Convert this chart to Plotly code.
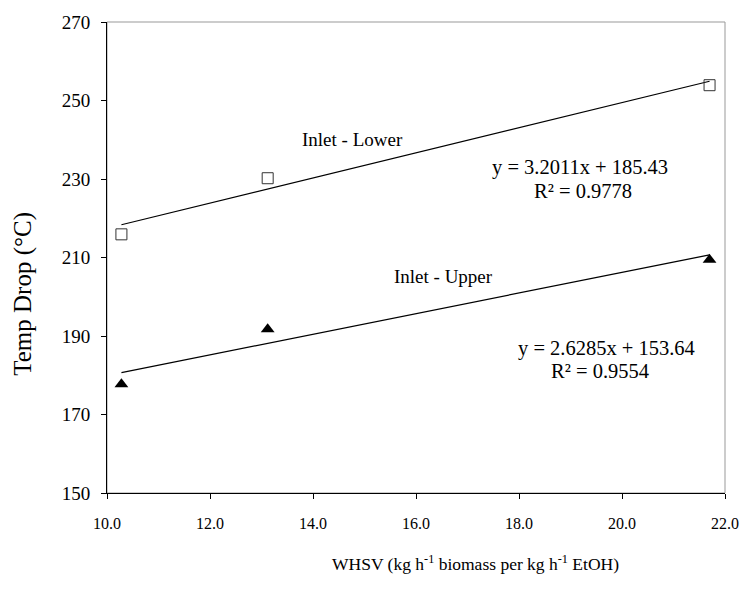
import plotly.graph_objects as go

# Data
whsv = [10.28, 13.12, 21.70]
lower_drop = [215.9, 230.2, 253.9]   # Inlet - Lower (open squares)
upper_drop = [177.7, 191.7, 209.4]   # Inlet - Upper (filled triangles)

# Linear fits shown on the chart
lower_slope, lower_icpt, lower_r2 = 3.2011, 185.43, 0.9778
upper_slope, upper_icpt, upper_r2 = 2.6285, 153.64, 0.9554

x_ticks = [10, 12, 14, 16, 18, 20, 22]
y_ticks = [150, 170, 190, 210, 230, 250, 270]

FONT = "Liberation Serif, Times New Roman, serif"

fit_x = [min(whsv), max(whsv)]
lower_fit = [lower_slope * v + lower_icpt for v in fit_x]
upper_fit = [upper_slope * v + upper_icpt for v in fit_x]

fig = go.Figure()
fig.add_trace(go.Scatter(x=fit_x, y=lower_fit, mode="lines",
                         line=dict(color="black", width=1.2), showlegend=False))
fig.add_trace(go.Scatter(x=fit_x, y=upper_fit, mode="lines",
                         line=dict(color="black", width=1.2), showlegend=False))
fig.add_trace(go.Scatter(x=whsv, y=lower_drop, mode="markers",
                         marker=dict(symbol="square-open", size=11, color="#333",
                                     line=dict(width=1)),
                         showlegend=False))
fig.add_trace(go.Scatter(x=whsv, y=upper_drop, mode="markers",
                         marker=dict(symbol="triangle-up", size=12, color="black"),
                         showlegend=False))

# Grey frame on top/right
fig.add_shape(type="rect", xref="x domain", yref="y domain", x0=0, x1=1, y0=0, y1=1,
              line=dict(color="#999", width=1), layer="below")

ann_font = dict(family=FONT, size=20.5, color="black")
lab_font = dict(family=FONT, size=19, color="black")
annotations = [
    dict(text="Inlet - Lower", x=0.398, y=0.750, font=lab_font),
    dict(text="Inlet - Upper", x=0.5446, y=0.460, font=lab_font),
    dict(text=f"y = {lower_slope}x + {lower_icpt}", x=0.765, y=0.692, font=ann_font),
    dict(text=f"R² = {lower_r2}", x=0.771, y=0.642, font=ann_font),
    dict(text=f"y = {upper_slope}x + {upper_icpt}", x=0.808, y=0.3075, font=ann_font),
    dict(text=f"R² = {upper_r2}", x=0.798, y=0.26, font=ann_font),
    dict(text="WHSV (kg h<sup>-1</sup> biomass per kg h<sup>-1</sup> EtOH)",
         x=0.597, y=-0.148, font=dict(family=FONT, size=17.5, color="black")),
    dict(text="Temp Drop (°C)", x=-0.135, y=0.422, textangle=-90,
         font=dict(family=FONT, size=25, color="black")),
]
for a in annotations:
    a.update(xref="paper", yref="paper", showarrow=False, xanchor="center", yanchor="middle")

fig.update_layout(
    width=751, height=590,
    margin=dict(l=107, r=16, t=14, b=96.5),
    paper_bgcolor="white", plot_bgcolor="white",
    font=dict(family=FONT, color="black"),
    annotations=annotations,
    xaxis=dict(range=[10, 22], tickvals=x_ticks, ticktext=[f"{v:.1f}" for v in x_ticks],
               showgrid=False, zeroline=False, showline=True, linecolor="black", linewidth=1,
               ticks="outside", ticklen=5, tickcolor="black",
               tickfont=dict(family=FONT, size=16, color="black"),
               ticklabelstandoff=11),
    yaxis=dict(range=[150, 270], tickvals=y_ticks,
               showgrid=False, zeroline=False, showline=True, linecolor="black", linewidth=1,
               ticks="outside", ticklen=5, tickcolor="black",
               tickfont=dict(family=FONT, size=19, color="black"),
               ticklabelstandoff=7),
)

fig.write_html("out.html")
